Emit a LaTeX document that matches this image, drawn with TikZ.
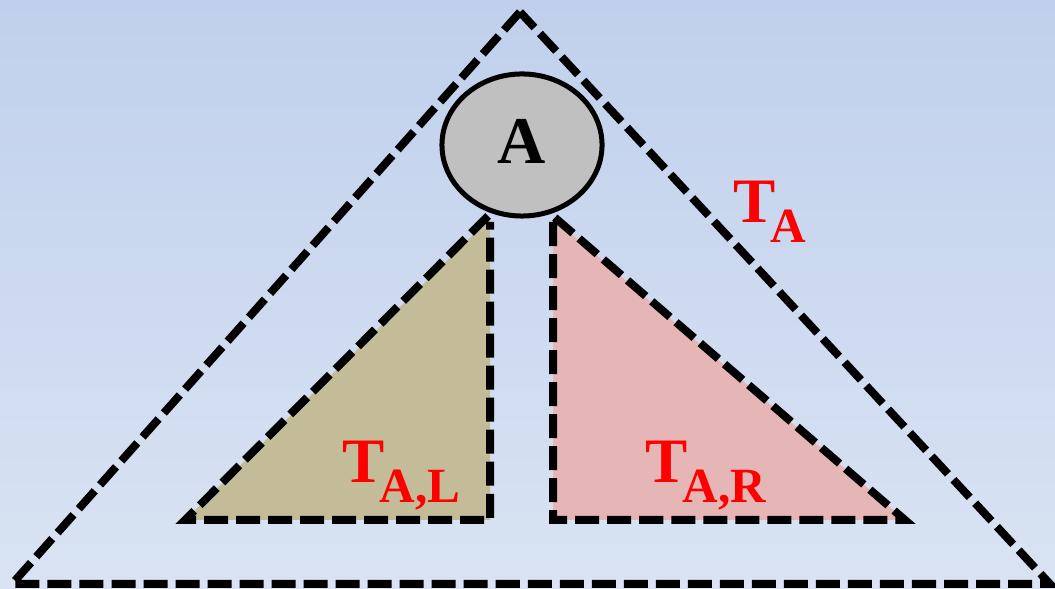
\documentclass[tikz,border=0pt]{standalone}
\usepackage{fontspec}
\usetikzlibrary{shapes.geometric}
\setmainfont{Liberation Serif}
\definecolor{bgtop}{HTML}{C0D0EC}
\definecolor{bgbot}{HTML}{D9E3F3}
\definecolor{leftfill}{HTML}{C4BC98}
\definecolor{rightfill}{HTML}{E6B6B6}
\definecolor{nodegray}{HTML}{C0C0C0}
\newcommand{\treename}[1]{T\kern-1.5pt\raisebox{-5.5pt}{\fontsize{14}{14}\selectfont #1}}
\begin{document}
\begin{tikzpicture}[
x=0.01cm, y=-0.01cm,
treeline/.style={draw=black, line width=0.08cm, dash pattern=on 0.24cm off 0.08cm},
subtree/.style={treeline, line join=miter},
rootnode/.style={draw, line width=0.05cm, fill=nodegray, ellipse, minimum width=1.6cm, minimum height=1.42cm, inner sep=0pt, font=\fontsize{19}{19}\selectfont\bfseries},
treelabel/.style={text=red, font=\fontsize{18}{18}\selectfont\bfseries, inner sep=0pt}
]
% background
\fill[top color=bgtop, bottom color=bgbot] (0,0) rectangle (1055,589);
\useasboundingbox (0,0) rectangle (1055,589);
% subtrees
\fill[leftfill] (490,218) -- (185,520) -- (490,520) -- cycle;
\fill[rightfill] (553,218) -- (553,520) -- (905,520) -- cycle;
\draw[subtree] (488,216) -- (185,520) -- (490,520) -- (490,222);
\draw[subtree] (553,222) -- (553,520) -- (905,520) -- (553,216);
% whole tree
\draw[treeline] (520,12) -- (12,584) -- (1050,584) -- cycle;
% root
\node[rootnode] (root) at (522,145) {\raisebox{2pt}{A}};
% labels
\node[treelabel, anchor=base west] (ta) at (733,223) {\treename{A}};
\node[treelabel, anchor=base west] (tal) at (342,483) {\treename{A,L}};
\node[treelabel, anchor=base west] (tar) at (645,483) {\treename{A,R}};
\end{tikzpicture}
\end{document}
